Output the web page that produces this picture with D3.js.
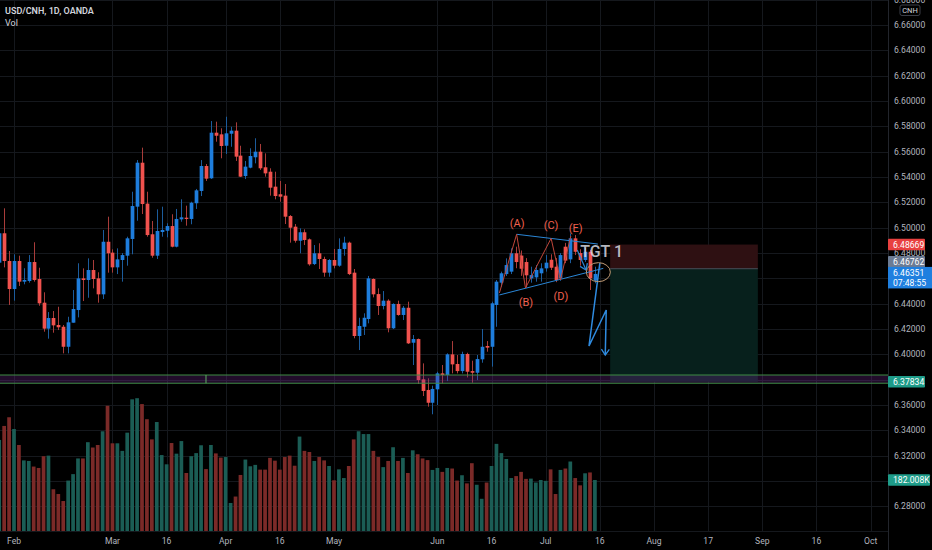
<!DOCTYPE html>
<html>
<head>
<meta charset="utf-8">
<script src="https://cdn.jsdelivr.net/npm/d3@7"></script>
<style>
html, body { margin: 0; padding: 0; background: #000; overflow: hidden; }
svg { display: block; font-family: Roboto, "Liberation Sans", sans-serif; }
</style>
</head>
<body>
<svg id="chart" width="932" height="550"></svg>
<script>
// USD/CNH daily candles, OANDA, 27 Jan .. 15 Jul 2021 (weekdays only)
var startDate = new Date(2021, 0, 27);
var endDate = new Date(2021, 6, 16);

var open = [6.4724, 6.4956, 6.4737, 6.4516, 6.4737, 6.4574, 6.4579, 6.4729, 6.4595, 6.4408,
	6.4203, 6.4287, 6.4232, 6.4218, 6.4060, 6.4250, 6.4350, 6.4600, 6.4587, 6.4666,
	6.4600, 6.4474, 6.4889, 6.4803, 6.4687, 6.4745, 6.4779, 6.4911, 6.5166, 6.5513,
	6.5190, 6.4948, 6.4779, 6.4966, 6.4976, 6.5013, 6.4850, 6.5066, 6.5079, 6.5069,
	6.5193, 6.5290, 6.5487, 6.5390, 6.5750, 6.5737, 6.5647, 6.5742, 6.5766, 6.5569,
	6.5408, 6.5474, 6.5556, 6.5600, 6.5477, 6.5442, 6.5324, 6.5264, 6.5253, 6.5092,
	6.5008, 6.4897, 6.4964, 6.4908, 6.4713, 6.4798, 6.4753, 6.4645, 6.4745, 6.4700,
	6.4832, 6.4882, 6.4645, 6.4145, 6.4218, 6.4279, 6.4595, 6.4476, 6.4382, 6.4424,
	6.4206, 6.4398, 6.4311, 6.4368, 6.4092, 6.4121, 6.3803, 6.3719, 6.3618, 6.3724,
	6.3850, 6.3837, 6.4000, 6.3924, 6.3868, 6.4003, 6.3868, 6.3855, 6.3961, 6.4066,
	6.4060, 6.4390, 6.4566, 6.4634, 6.4653, 6.4798, 6.4780, 6.4729, 6.4600, 6.4608,
	6.4640, 6.4679, 6.4747, 6.4692, 6.4600, 6.4850, 6.4750, 6.4916, 6.4800, 6.4745,
	6.4810, 6.4582];
var high = [6.5021, 6.5153, 6.4816, 6.4790, 6.4779, 6.4680, 6.4784, 6.4885, 6.4684, 6.4490,
	6.4334, 6.4342, 6.4376, 6.4232, 6.4297, 6.4508, 6.4719, 6.4679, 6.4758, 6.4745,
	6.4648, 6.4982, 6.5087, 6.4829, 6.4837, 6.4800, 6.4929, 6.5284, 6.5534, 6.5632,
	6.5284, 6.5053, 6.5145, 6.5166, 6.5035, 6.5106, 6.5148, 6.5224, 6.5174, 6.5205,
	6.5306, 6.5534, 6.5503, 6.5842, 6.5837, 6.5785, 6.5876, 6.5797, 6.5832, 6.5647,
	6.5527, 6.5627, 6.5706, 6.5661, 6.5587, 6.5469, 6.5442, 6.5369, 6.5345, 6.5100,
	6.5029, 6.4995, 6.4987, 6.4915, 6.4863, 6.4877, 6.4771, 6.4753, 6.4832, 6.4916,
	6.4929, 6.4890, 6.4674, 6.4289, 6.4324, 6.4619, 6.4600, 6.4521, 6.4500, 6.4435,
	6.4403, 6.4424, 6.4382, 6.4416, 6.4153, 6.4125, 6.3929, 6.3811, 6.3753, 6.3863,
	6.3916, 6.4008, 6.4105, 6.3995, 6.4021, 6.4013, 6.3950, 6.3995, 6.4200, 6.4105,
	6.4416, 6.4587, 6.4653, 6.4758, 6.4837, 6.4850, 6.4820, 6.4760, 6.4692, 6.4705,
	6.4719, 6.4784, 6.4790, 6.4760, 6.4800, 6.4880, 6.4955, 6.4942, 6.4830, 6.4840,
	6.4824, 6.4692];
var low = [6.4682, 6.4687, 6.4390, 6.4424, 6.4540, 6.4553, 6.4566, 6.4574, 6.4384, 6.4179,
	6.4124, 6.4171, 6.4192, 6.4008, 6.4008, 6.4250, 6.4292, 6.4421, 6.4447, 6.4521,
	6.4408, 6.4437, 6.4645, 6.4645, 6.4634, 6.4574, 6.4700, 6.4790, 6.5055, 6.5108,
	6.4929, 6.4763, 6.4753, 6.4929, 6.4924, 6.4845, 6.4845, 6.5047, 6.5016, 6.5027,
	6.5148, 6.5250, 6.5369, 6.5385, 6.5679, 6.5548, 6.5582, 6.5639, 6.5527, 6.5400,
	6.5384, 6.5469, 6.5508, 6.5456, 6.5403, 6.5253, 6.5224, 6.5205, 6.5029, 6.4882,
	6.4882, 6.4798, 6.4863, 6.4700, 6.4705, 6.4674, 6.4613, 6.4613, 6.4679, 6.4692,
	6.4779, 6.4626, 6.4127, 6.4034, 6.4153, 6.4245, 6.4450, 6.4311, 6.4355, 6.4174,
	6.4200, 6.4305, 6.4271, 6.4082, 6.3916, 6.3766, 6.3671, 6.3587, 6.3527, 6.3600,
	6.3771, 6.3789, 6.3850, 6.3850, 6.3850, 6.3818, 6.3776, 6.3797, 6.3934, 6.4021,
	6.3903, 6.4218, 6.4534, 6.4619, 6.4634, 6.4680, 6.4620, 6.4529, 6.4566, 6.4574,
	6.4574, 6.4653, 6.4666, 6.4570, 6.4580, 6.4720, 6.4720, 6.4784, 6.4700, 6.4730,
	6.4508, 6.4561];
var close = [6.4956, 6.4737, 6.4516, 6.4737, 6.4574, 6.4587, 6.4729, 6.4587, 6.4403, 6.4203,
	6.4287, 6.4229, 6.4214, 6.4060, 6.4253, 6.4358, 6.4600, 6.4587, 6.4666, 6.4595,
	6.4474, 6.4889, 6.4798, 6.4687, 6.4750, 6.4784, 6.4916, 6.5171, 6.5513, 6.5187,
	6.4942, 6.4779, 6.4974, 6.4982, 6.5013, 6.4850, 6.5069, 6.5082, 6.5069, 6.5197,
	6.5295, 6.5487, 6.5387, 6.5750, 6.5726, 6.5645, 6.5745, 6.5766, 6.5561, 6.5403,
	6.5482, 6.5566, 6.5600, 6.5469, 6.5429, 6.5316, 6.5250, 6.5245, 6.5087, 6.5000,
	6.4897, 6.4964, 6.4903, 6.4711, 6.4798, 6.4753, 6.4645, 6.4745, 6.4700, 6.4832,
	6.4882, 6.4634, 6.4145, 6.4224, 6.4289, 6.4600, 6.4474, 6.4382, 6.4424, 6.4206,
	6.4398, 6.4311, 6.4368, 6.4087, 6.4121, 6.3797, 6.3711, 6.3618, 6.3727, 6.3850,
	6.3837, 6.4000, 6.3921, 6.3868, 6.4003, 6.3863, 6.3855, 6.3963, 6.4060, 6.4053,
	6.4403, 6.4574, 6.4640, 6.4705, 6.4798, 6.4729, 6.4676, 6.4624, 6.4626, 6.4666,
	6.4679, 6.4724, 6.4684, 6.4587, 6.4784, 6.4740, 6.4916, 6.4810, 6.4745, 6.4810,
	6.4600, 6.46351];
// volume, thousands
var volume = [325, 375, 406, 364, 307, 252, 250, 230, 225, 267,
	269, 149, 132, 107, 180, 203, 259, 259, 317, 298,
	307, 356, 447, 313, 313, 286, 351, 470, 474, 453,
	399, 327, 389, 271, 238, 314, 276, 321, 207, 267,
	278, 306, 221, 307, 277, 262, 264, 100, 123, 200,
	255, 231, 236, 219, 219, 261, 251, 219, 264, 269,
	233, 337, 286, 282, 250, 264, 252, 232, 181, 220,
	189, 232, 327, 356, 346, 346, 286, 264, 228, 250,
	299, 250, 261, 207, 288, 274, 259, 253, 218, 225,
	211, 225, 223, 180, 199, 170, 242, 165, 115, 173,
	232, 311, 278, 257, 189, 196, 211, 186, 187, 173,
	182, 179, 220, 132, 218, 223, 248, 189, 163, 206,
	209, 182.008];

var priceTicks = [6.28, 6.30, 6.32, 6.34, 6.36, 6.38, 6.40, 6.42, 6.44, 6.46, 6.48,
	6.50, 6.52, 6.54, 6.56, 6.58, 6.60, 6.62, 6.64, 6.66, 6.68];
var timeTicks = ["2021-02-01", "2021-03-01", "2021-03-16", "2021-04-01", "2021-04-16",
	"2021-05-03", "2021-06-01", "2021-06-16", "2021-07-01", "2021-07-16",
	"2021-08-02", "2021-08-17", "2021-09-01", "2021-09-16", "2021-10-01"];
var timeLabels = ["Feb", "Mar", "16", "Apr", "16", "May", "Jun", "16", "Jul", "16",
	"Aug", "17", "Sep", "16", "Oct"];

// drawings on the chart: [bar offset from 1 Feb, price]
var triangleTop = [[102.1, 6.4948], [118.6, 6.4871]];
var triangleBottom = [[98.6, 6.4469], [119.7, 6.4679]];
var waveLine = [[98.6, 6.4485], [102.1, 6.4948], [103.9, 6.4524], [109.1, 6.4916], [111.0, 6.4587], [113.1, 6.4934]];
var waveNames = ["(A)", "(B)", "(C)", "(D)", "(E)"];
var waveLabelAt = [[102.2, 6.5037], [104.0, 6.4406], [109.1, 6.5021], [111.1, 6.4453], [114.1, 6.4994]];
var projection = [[119.0, 6.4721], [116.8, 6.4066], [120.3, 6.4350], [120.1, 6.3995]];
var smallArrow = [[114.4, 6.4824], [116.2, 6.4666]];
var circleAt = [118.7, 6.4649];
var position = { from: 121.1, to: 151.1, entry: 6.46762, stop: 6.48669, target: 6.37834 };
var zone = { top: 6.3837, bottom: 6.3772, mark: 39 };
var lastPrice = 6.46351, countdown = "07:48:55", lastVolume = "182.008K";

var W = 932, H = 550, axisX = 888, paneBottom = 531;
var svg = d3.select('#chart');

function isWeekday(t) { var w = t.getDay(); return w > 0 && w < 6; }
var origin = new Date(2021, 1, 1);
// number of trading days between 1 Feb and d
function barIndex(d) {
	var a = d < origin ? d : origin, b = d < origin ? origin : d;
	var n = d3.timeDay.range(a, b).filter(isWeekday).length;
	return d < origin ? -n : n;
}

var dates = d3.timeDay.range(startDate, endDate).filter(isWeekday);
var bars = dates.map(function (d, i) {
	return { i: barIndex(d), o: open[i], h: high[i], l: low[i], c: close[i], v: volume[i] };
});

var x = d3.scaleLinear().domain([0, 174]).range([14, 870.6]);
var y = d3.scaleLinear().domain([6.26, 6.68]).range([531.7, -0.3]);
var vy = d3.scaleLinear().domain([0, 474]).range([paneBottom, 398.2]);
var parse = d3.timeParse('%Y-%m-%d');

svg.append('rect').attr('width', W).attr('height', H).attr('fill', '#000');

// grid
var grid = svg.append('g').attr('stroke', '#15181d').attr('stroke-width', 1);
grid.selectAll('.hg').data(priceTicks).enter().append('line')
	.attr('x1', 0).attr('x2', axisX)
	.attr('y1', function (d) { return Math.round(y(d)) + 0.5; })
	.attr('y2', function (d) { return Math.round(y(d)) + 0.5; });
grid.selectAll('.vg').data(timeTicks).enter().append('line')
	.attr('y1', 0).attr('y2', paneBottom)
	.attr('x1', function (d) { return Math.round(x(barIndex(parse(d)))) + 0.5; })
	.attr('x2', function (d) { return Math.round(x(barIndex(parse(d)))) + 0.5; });

// short position tool
var pos = svg.append('g');
pos.append('rect')
	.attr('x', x(position.from)).attr('width', x(position.to) - x(position.from))
	.attr('y', y(position.stop)).attr('height', y(position.entry) - y(position.stop))
	.attr('fill', '#2e1012');
pos.append('rect')
	.attr('x', x(position.from)).attr('width', x(position.to) - x(position.from))
	.attr('y', y(position.entry)).attr('height', y(position.target) - y(position.entry))
	.attr('fill', '#07201c');
pos.append('line')
	.attr('x1', x(position.from)).attr('x2', x(position.to))
	.attr('y1', y(position.entry)).attr('y2', y(position.entry))
	.attr('stroke', '#4a4e58');

// volume overlay
var bw = 3.7;
svg.append('g').selectAll('rect').data(bars).enter().append('rect')
	.attr('x', function (d) { return x(d.i) - bw / 2; })
	.attr('width', bw)
	.attr('y', function (d) { return vy(d.v); })
	.attr('height', function (d) { return paneBottom - vy(d.v); })
	.attr('fill', function (d) { return d.c >= d.o ? '#1b5d55' : '#7b2a28'; });

// candles
var cg = svg.append('g');
cg.selectAll('line').data(bars).enter().append('line')
	.attr('x1', function (d) { return Math.round(x(d.i)) + 0.5; })
	.attr('x2', function (d) { return Math.round(x(d.i)) + 0.5; })
	.attr('y1', function (d) { return y(d.h); })
	.attr('y2', function (d) { return y(d.l); })
	.attr('stroke', function (d) { return d.c >= d.o ? '#1c5c9c' : '#a93c3a'; });
cg.selectAll('rect').data(bars).enter().append('rect')
	.attr('x', function (d) { return Math.round(x(d.i)) + 0.5 - bw / 2; })
	.attr('width', bw)
	.attr('y', function (d) { return y(Math.max(d.o, d.c)); })
	.attr('height', function (d) { return Math.max(1, Math.abs(y(d.o) - y(d.c))); })
	.attr('fill', function (d) { return d.c >= d.o ? '#1e7ddc' : '#f0524e'; });

// support zone
var zg = svg.append('g');
zg.append('rect').attr('x', 0).attr('width', axisX)
	.attr('y', y(zone.top)).attr('height', y(zone.bottom) - y(zone.top))
	.attr('fill', 'rgba(110,40,140,0.3)');
zg.selectAll('line').data([zone.top, zone.bottom]).enter().append('line')
	.attr('x1', 0).attr('x2', axisX)
	.attr('y1', function (d) { return y(d); }).attr('y2', function (d) { return y(d); })
	.attr('stroke', '#3e8c45');
zg.append('line')
	.attr('x1', x(zone.mark)).attr('x2', x(zone.mark))
	.attr('y1', y(zone.top)).attr('y2', y(zone.bottom))
	.attr('stroke', '#5fae64');

// pattern drawings
var line = d3.line().x(function (d) { return x(d[0]); }).y(function (d) { return y(d[1]); });
var dg = svg.append('g').attr('fill', 'none');
dg.append('path').attr('d', line(triangleTop)).attr('stroke', '#2a86d6').attr('stroke-width', 1);
dg.append('path').attr('d', line(triangleBottom)).attr('stroke', '#2a86d6').attr('stroke-width', 1);
dg.append('path').attr('d', line(waveLine)).attr('stroke', '#c0463a').attr('stroke-width', 1);

svg.append('g').selectAll('text').data(waveNames).enter().append('text')
	.attr('x', function (d, i) { return x(waveLabelAt[i][0]); })
	.attr('y', function (d, i) { return y(waveLabelAt[i][1]); })
	.attr('text-anchor', 'middle').attr('dominant-baseline', 'central')
	.attr('font-size', 11).attr('fill', '#f0604f')
	.text(function (d) { return d; });

svg.append('text')
	.attr('x', x(115)).attr('y', y(6.4767))
	.attr('font-size', 16).attr('font-weight', 500)
	.attr('fill', 'rgba(215,218,226,0.85)')
	.text('TGT 1');

// arrows
function arrowHead(g, p, q, color) {
	var ang = Math.atan2(y(q[1]) - y(p[1]), x(q[0]) - x(p[0])), L = 7, s = 0.6;
	var tx = x(q[0]), ty = y(q[1]);
	g.append('path')
		.attr('d', 'M' + (tx - L * Math.cos(ang - s)) + ',' + (ty - L * Math.sin(ang - s)) +
			'L' + tx + ',' + ty +
			'L' + (tx - L * Math.cos(ang + s)) + ',' + (ty - L * Math.sin(ang + s)))
		.attr('stroke', color).attr('stroke-width', 1.3).attr('fill', 'none');
}
dg.append('path').attr('d', line(smallArrow)).attr('stroke', '#2a86d6').attr('stroke-width', 1.2);
arrowHead(dg, smallArrow[0], smallArrow[1], '#2a86d6');
dg.append('path').attr('d', line(projection)).attr('stroke', '#2f8be0').attr('stroke-width', 1.5);
arrowHead(dg, projection[2], projection[3], '#2f8be0');

dg.append('ellipse')
	.attr('cx', x(circleAt[0])).attr('cy', y(circleAt[1]))
	.attr('rx', 12).attr('ry', 9.5)
	.attr('stroke', '#c09a74').attr('stroke-width', 1);

// right price axis
svg.append('line').attr('x1', axisX + 0.5).attr('x2', axisX + 0.5).attr('y1', 0).attr('y2', H)
	.attr('stroke', '#22252c');
svg.append('line').attr('x1', 0).attr('x2', axisX).attr('y1', paneBottom + 0.5).attr('y2', paneBottom + 0.5)
	.attr('stroke', '#15181d');

// axis tags (drawn last); tick labels that sit under a tag are hidden, as the platform does
var fmt = d3.format('.5f');
var tagY = [y(position.stop), y(position.entry) - 7, y(lastPrice) + 3.7, y(position.target), vy(volume[volume.length - 1])];
var shownTicks = priceTicks.filter(function (p) {
	return tagY.every(function (t) { return Math.abs(y(p) - t) > 7; });
});
svg.append('g').selectAll('text').data(shownTicks).enter().append('text')
	.attr('x', 894).attr('y', function (d) { return y(d); })
	.attr('dominant-baseline', 'central')
	.attr('font-size', 8.6).attr('fill', '#b2b5be')
	.text(function (d) { return fmt(d); });

// time axis
svg.append('g').selectAll('text').data(timeTicks).enter().append('text')
	.attr('x', function (d) { return x(barIndex(parse(d))); })
	.attr('y', 541)
	.attr('text-anchor', 'middle').attr('dominant-baseline', 'central')
	.attr('font-size', 8.6).attr('fill', '#b2b5be')
	.text(function (d, i) { return timeLabels[i]; });

// price labels on the axis
function tag(cy, text, fill, w) {
	var g = svg.append('g');
	g.append('rect').attr('x', axisX).attr('y', cy - 5.8).attr('width', w || 37).attr('height', 11.6)
		.attr('rx', 1).attr('fill', fill);
	g.append('text').attr('x', 893).attr('y', cy).attr('dominant-baseline', 'central')
		.attr('font-size', 8.6).attr('fill', '#fff').text(text);
	return g;
}
tag(tagY[0], fmt(position.stop), '#e8403f');
tag(tagY[1], fmt(position.entry), '#6c7b93');
var lp = svg.append('g');
lp.append('rect').attr('x', axisX).attr('y', y(lastPrice) - 7).attr('width', W - axisX).attr('height', 21.5)
	.attr('fill', '#1f7fdf');
lp.append('text').attr('x', 893).attr('y', y(lastPrice) - 1).attr('dominant-baseline', 'central')
	.attr('font-size', 8.6).attr('fill', '#fff').text(fmt(lastPrice));
lp.append('text').attr('x', 893).attr('y', y(lastPrice) + 9).attr('dominant-baseline', 'central')
	.attr('font-size', 8.6).attr('fill', '#fff').text(countdown);
tag(tagY[3], fmt(position.target), '#1e9c89');
tag(tagY[4], lastVolume, '#1e9c89', 42);

// currency box
svg.append('rect').attr('x', 900).attr('y', 5).attr('width', 20).attr('height', 10.5)
	.attr('rx', 2).attr('fill', '#000').attr('stroke', '#3a3d46');
svg.append('text').attr('x', 910).attr('y', 10.5).attr('text-anchor', 'middle')
	.attr('dominant-baseline', 'central').attr('font-size', 7.5).attr('fill', '#d1d4dc').text('CNH');

// legend
svg.append('text').attr('x', 5).attr('y', 11).attr('dominant-baseline', 'central')
	.attr('font-size', 9).attr('font-weight', 600).attr('fill', '#d1d4dc').text('USD/CNH, 1D, OANDA');
svg.append('text').attr('x', 5).attr('y', 23).attr('dominant-baseline', 'central')
	.attr('font-size', 9).attr('fill', '#d1d4dc').text('Vol');
</script>
</body>
</html>
